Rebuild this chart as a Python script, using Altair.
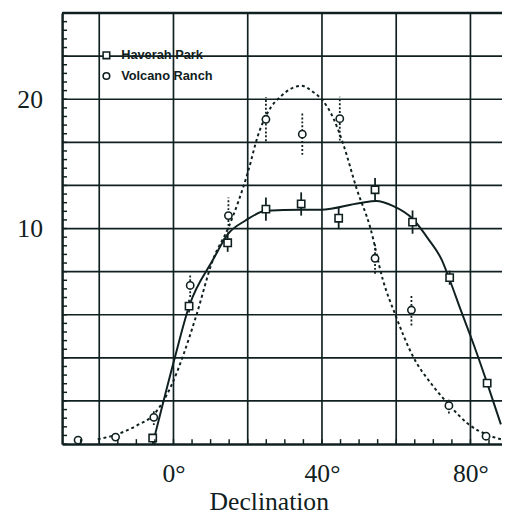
import altair as alt
import pandas as pd

INK = "#102020"

# Haverah Park measured points (declination in degrees, value, error half-width)
hp_dec = [-5.6, 4.2, 14.6, 24.9, 34.4, 44.5, 54.3, 64.4, 74.4, 84.5]
hp_val = [-6.2, 4.0, 8.9, 11.5, 11.9, 10.8, 13.0, 10.5, 6.2, -1.95]
hp_err = [0.3, 0.5, 0.7, 0.9, 0.9, 0.85, 0.9, 0.9, 0.55, 0.3]

# Volcano Ranch measured points
vr_dec = [-25.7, -15.6, -5.3, 4.5, 14.8, 24.9, 34.7, 44.8, 54.3, 64.1, 74.2, 84.2]
vr_val = [-6.36, -6.13, -4.6, 5.6, 11.0, 18.45, 17.3, 18.5, 7.7, 3.7, -3.7, -6.06]
vr_err = [0.0, 0.0, 0.6, 0.9, 1.4, 1.7, 1.6, 1.7, 1.2, 1.2, 0.6, 0.0]

# Smooth fitted curves
hp_curve_dec = [-5.6, 0.3, 4.2, 10.6, 14.8, 19.3, 24.9, 34.4, 39.7, 50.3, 54.6, 59.1,
                64.4, 68.9, 72.3, 74.4, 77.6, 80.3, 84.5, 88.2]
hp_curve_val = [-6.67, -0.05, 3.99, 7.56, 9.62, 10.6, 11.37, 11.45, 11.45, 11.98, 12.13, 11.75,
                10.76, 9.09, 7.56, 6.04, 3.53, 1.48, -1.95, -5.14]
vr_curve_dec = [-20.4, -15.9, -9.8, -5.3, -0.5, 2.6, 6.1, 10.6, 14.8, 20.1, 22.8, 25.4,
                29.1, 34.4, 37.9, 40.0, 43.2, 45.8, 49.3, 53.0, 56.4, 59.9, 64.4, 69.7,
                74.2, 79.5, 84.8, 88.2]
vr_curve_val = [-6.29, -5.98, -5.22, -4.38, -2.1, 0.18, 3.23, 7.56, 10.08, 14.41, 17.23, 18.98,
                20.27, 21.04, 20.5, 19.97, 18.45, 16.47, 13.12, 10.08, 6.04, 3.23, 0.18, -2.1,
                -3.62, -5.14, -5.98, -6.29]

series_names = ["Haverah Park", "Volcano Ranch"]
series_shapes = ["square", "circle"]

# axis grid / tick values
y_grid = [k * 10 / 3 for k in range(-1, 9)]
y_labels = [10, 20]
y_minor = [k * 2 / 3 for k in range(-10, 41)]
x_grid = [-20, 0, 20, 40, 60, 80]
x_labels = [0, 40, 80]
x_minor = list(range(-25, 90, 5))

X_DOMAIN = [-30, 88.5]
Y_DOMAIN = [-20 / 3, 80 / 3]
W, H = 447, 438


def pts_df(dec, val, err, name):
    return pd.DataFrame({"dec": dec, "val": val,
                         "lo": [v - e for v, e in zip(val, err)],
                         "hi": [v + e for v, e in zip(val, err)],
                         "series": [name] * len(dec)})


hp_pts = pts_df(hp_dec, hp_val, hp_err, series_names[0])
vr_pts = pts_df(vr_dec, vr_val, vr_err, series_names[1])
all_pts = pd.concat([hp_pts, vr_pts], ignore_index=True)
hp_curve = pd.DataFrame({"dec": hp_curve_dec, "val": hp_curve_val})
vr_curve = pd.DataFrame({"dec": vr_curve_dec, "val": vr_curve_val})

xs = alt.Scale(domain=X_DOMAIN, nice=False, zero=False)
ys = alt.Scale(domain=Y_DOMAIN, nice=False, zero=False)

x_axis = alt.Axis(
    values=x_labels, grid=False,
    domainColor=INK, domainWidth=2.5, ticks=False, tickSize=0,
    labelExpr="datum.value + '°'",
    labelFont="Liberation Serif", labelFontSize=26, labelColor=INK,
    labelPadding=38, labelBaseline="alphabetic", labelFlush=False, labelOverlap=False,
    title="Declination", titleFont="Liberation Serif", titleFontSize=26,
    titleFontWeight="normal", titleColor=INK, titleX=210, titleY=66,
    titleBaseline="alphabetic", titleAlign="center",
)
y_axis = alt.Axis(
    values=y_labels, grid=False,
    domainColor=INK, domainWidth=2.5, ticks=False, tickSize=0,
    labelFont="Liberation Serif", labelFontSize=26, labelColor=INK,
    labelPadding=20, labelFlush=False, labelOverlap=False, title=None,
)

# grid lines
hgrid = alt.Chart(pd.DataFrame({"val": y_grid})).mark_rule(color=INK, strokeWidth=1.7).encode(
    y=alt.Y("val:Q", scale=ys, axis=y_axis), x=alt.value(0), x2=alt.value(W)
)
vgrid = alt.Chart(pd.DataFrame({"dec": x_grid})).mark_rule(color=INK, strokeWidth=1.7).encode(
    x=alt.X("dec:Q", scale=xs, axis=x_axis), y=alt.value(0), y2=alt.value(H)
)

hp_line = alt.Chart(hp_curve).mark_line(color=INK, strokeWidth=2, interpolate="monotone").encode(
    x=alt.X("dec:Q", scale=xs),
    y=alt.Y("val:Q", scale=ys),
)
vr_line = alt.Chart(vr_curve).mark_line(color=INK, strokeWidth=2, strokeDash=[3, 3],
                                        interpolate="monotone").encode(
    x=alt.X("dec:Q", scale=xs),
    y=alt.Y("val:Q", scale=ys),
)
hp_err_layer = alt.Chart(hp_pts).mark_rule(color=INK, strokeWidth=1.8).encode(
    x=alt.X("dec:Q", scale=xs), y=alt.Y("lo:Q", scale=ys), y2="hi:Q",
)
vr_err_layer = alt.Chart(vr_pts).mark_rule(color=INK, strokeWidth=1.8, strokeDash=[2, 2]).encode(
    x=alt.X("dec:Q", scale=xs), y=alt.Y("lo:Q", scale=ys), y2="hi:Q",
)

shape_scale = alt.Scale(domain=series_names, range=series_shapes)

pt_layer = alt.Chart(all_pts).mark_point(filled=True, fill="white", stroke=INK,
                                         strokeWidth=1.6, size=55, opacity=1).encode(
    x=alt.X("dec:Q", scale=xs),
    y=alt.Y("val:Q", scale=ys),
    shape=alt.Shape("series:N", scale=shape_scale, legend=None),
)

# in-plot key (symbol + label per series)
key_layers = []
for i, name in enumerate(series_names):
    kd = pd.DataFrame({"series": [name]})
    key_layers.append(
        alt.Chart(kd).mark_point(filled=True, fill="white", stroke=INK, strokeWidth=1.6,
                                 size=45, opacity=1).encode(
            x=alt.value(45), y=alt.value(43 + 21 * i),
            shape=alt.Shape("series:N", scale=shape_scale, legend=None),
        )
    )
    key_layers.append(
        alt.Chart(kd).mark_text(align="left", baseline="middle", font="Liberation Sans",
                                fontSize=13, fontWeight="bold", color=INK).encode(
            x=alt.value(60), y=alt.value(43 + 21 * i), text="series:N",
        )
    )

xminor_layer = alt.Chart(pd.DataFrame({"dec": x_minor})).mark_rule(color=INK, strokeWidth=1.5).encode(
    x=alt.X("dec:Q", scale=xs), y=alt.value(H), y2=alt.value(H - 5)
)
yminor_layer = alt.Chart(pd.DataFrame({"val": y_minor})).mark_rule(color=INK, strokeWidth=1.5).encode(
    y=alt.Y("val:Q", scale=ys), x=alt.value(0), x2=alt.value(5)
)
top_layer = alt.Chart(pd.DataFrame({"v": [Y_DOMAIN[1]]})).mark_rule(color=INK, strokeWidth=2.5).encode(
    y=alt.Y("v:Q", scale=ys), x=alt.value(0), x2=alt.value(W)
)

chart = alt.layer(hgrid, vgrid, hp_line, vr_line, hp_err_layer, vr_err_layer, pt_layer,
                  *key_layers, xminor_layer, yminor_layer, top_layer).properties(
    width=W, height=H,
    padding={"left": 55, "top": 1, "right": 0, "bottom": 70},
    autosize=alt.AutoSizeParams(type="none"),
    background="white",
).configure_view(stroke=None)

chart.save("out.html", embed_options={"renderer": "svg", "actions": False})
